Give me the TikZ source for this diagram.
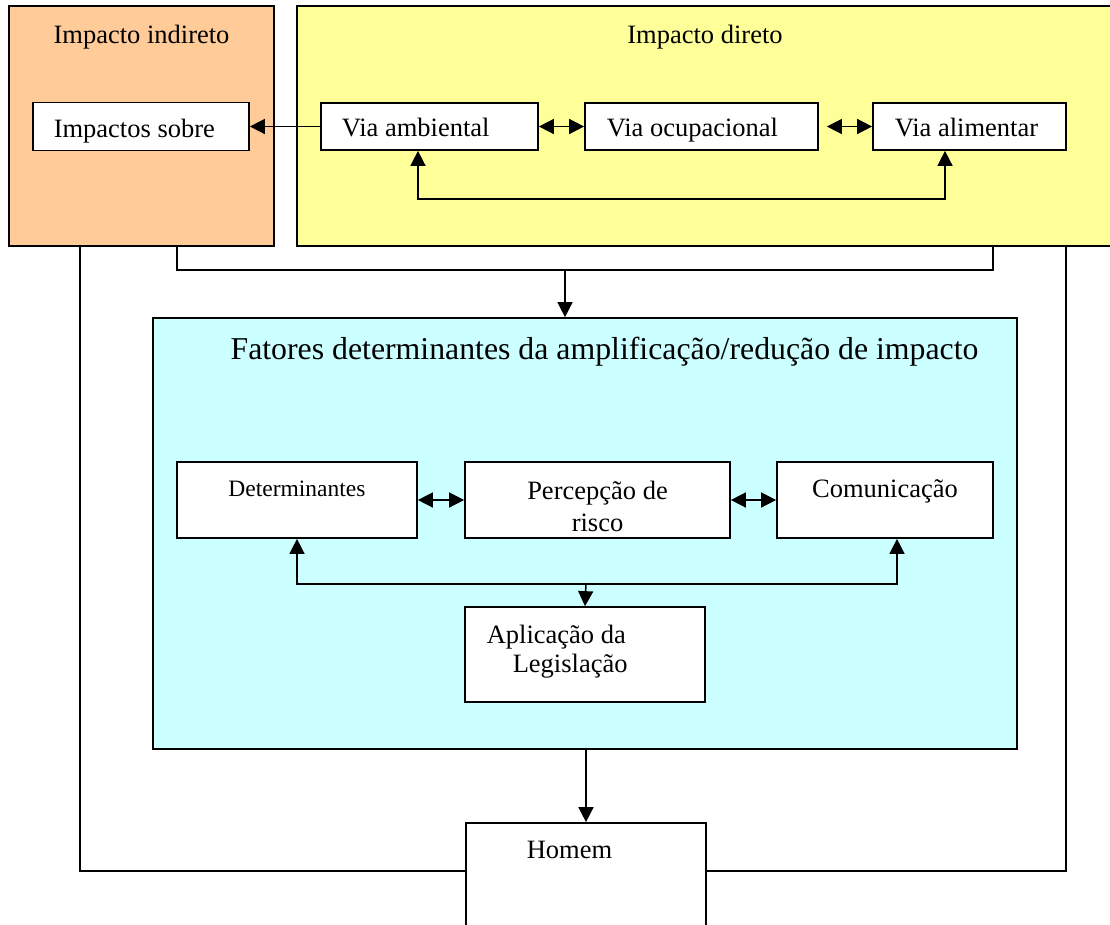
\documentclass[tikz,border=0pt]{standalone}
\usepackage{fontspec}
\setmainfont{Liberation Serif}
\usetikzlibrary{arrows.meta}
\definecolor{orangebg}{HTML}{FFCC99}
\definecolor{yellowbg}{HTML}{FFFF99}
\definecolor{cyanbg}{HTML}{CCFFFF}
\begin{document}
\begin{tikzpicture}[x=1pt,y=-1pt,line width=1.5pt,
  bigbox/.style={draw=black,line width=1.7pt,inner sep=0pt},
  box/.style={draw=black,fill=white,line width=1.7pt,inner sep=0pt},
  txt/.style={inner sep=0pt,font=\fontsize{26.5}{30}\selectfont},
  smalltxt/.style={inner sep=0pt,font=\fontsize{23.5}{27}\selectfont},
  titletxt/.style={inner sep=0pt,font=\fontsize{31.8}{36}\selectfont},
  arr/.style={-{Triangle[length=15pt,width=15pt]}},
  darr/.style={{Triangle[length=15pt,width=15pt]}-{Triangle[length=15pt,width=15pt]}}]
\useasboundingbox (0,0) rectangle (1110,924);
\fill[white] (0,0) rectangle (1110,924);

% big containers
\node[bigbox,fill=orangebg,minimum width=265pt,minimum height=240pt] (ind) at (141.5,126) {};
\node[bigbox,fill=yellowbg,minimum width=815pt,minimum height=240pt] (dir) at (704.5,126) {};
\node[bigbox,fill=cyanbg,minimum width=864pt,minimum height=431pt] (fat) at (585,533.5) {};
\node[box,minimum width=240pt,minimum height=120pt] (homem) at (586,883) {};

\coordinate (junc) at (565,270);
\coordinate (hl) at (466,871);
\coordinate (hr) at (706,871);
\coordinate (lj) at (586,583);

% titles
\node[txt,anchor=base] (tind) at (141.5,43) {Impacto indireto};
\node[txt,anchor=base] (tdir) at (705,43) {Impacto direto};
\node[titletxt,anchor=base] (tfat) at (604.5,359) {Fatores determinantes da amplificação/redução de impacto};

% upper inner boxes
\node[box,minimum width=216pt,minimum height=48pt] (imp) at (141,126.5) {};
\node[box,minimum width=217pt,minimum height=47pt] (amb) at (429.5,126.5) {};
\node[box,minimum width=233pt,minimum height=47pt] (ocu) at (701.5,126.5) {};
\node[box,minimum width=193pt,minimum height=47pt] (ali) at (969.5,126.5) {};
\node[txt,anchor=base west] (timp) at (53,137) {Impactos sobre};
\node[txt,anchor=base west] (tamb) at (341,136) {Via ambiental};
\node[txt,anchor=base west] (tocu) at (606,136) {Via ocupacional};
\node[txt,anchor=base west] (tali) at (894,136) {Via alimentar};

\draw[arr] (amb.west) -- (imp.east);
\draw[darr] (amb.east) -- (ocu.west);
\draw[darr] ([xshift=8pt]ocu.east) -- (ali.west);
\draw[darr] ([xshift=-11.5pt]amb.south) -- ++(0,48) -| ([xshift=-24.5pt]ali.south);

% lower inner boxes
\node[box,minimum width=240pt,minimum height=76pt] (det) at (297,500) {};
\node[box,minimum width=265pt,minimum height=76pt] (per) at (597.5,500) {};
\node[box,minimum width=216pt,minimum height=76pt] (com) at (885,500) {};
\node[box,minimum width=240pt,minimum height=95pt] (apl) at (585,654.5) {};
\node[smalltxt,anchor=base] (tdet) at (297,496) {Determinantes};
\node[txt,anchor=base] (tper1) at (597.5,499) {Percepção de};
\node[txt,anchor=base] (tper2) at (597.5,531) {risco};
\node[txt,anchor=base] (tcom) at (885,497) {Comunicação};
\node[txt,anchor=base west] (tapl1) at (486,643) {Aplicação da};
\node[txt,anchor=base west] (tapl2) at (512,672) {Legislação};
\node[txt,anchor=base west] (thom) at (526,858) {Homem};

\draw[darr] (det.east) -- (per.west);
\draw[darr] (per.east) -- (com.west);
\draw[darr] (det.south) -- ++(0,45) -| ([xshift=12pt]com.south);
\draw[arr] (lj) -- (apl.north);

% outer connectors
\draw ([xshift=35.5pt]ind.south) |- (junc) -| ([xshift=288.5pt]dir.south);
\draw[arr] (junc) -- (junc |- fat.north);
\draw[arr] (homem.north |- fat.south) -- (homem.north);
\draw ([xshift=-61.5pt]ind.south) |- (hl);
\draw ([xshift=361.5pt]dir.south) |- (hr);
\end{tikzpicture}
\end{document}
